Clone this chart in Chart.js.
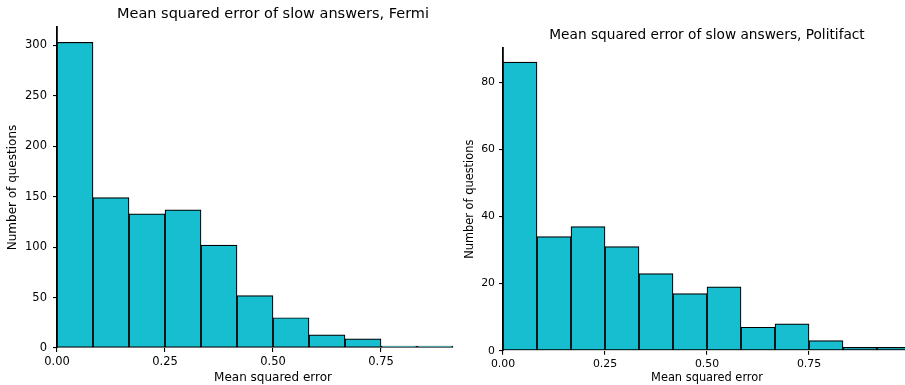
<!DOCTYPE html>
<html>
<head>
<meta charset="utf-8">
<script src="https://cdn.jsdelivr.net/npm/chart.js@4.4.1/dist/chart.umd.min.js"></script>
<style>
html, body { margin: 0; padding: 0; background: #fff; overflow: hidden; width: 905px; height: 385px; }
canvas { position: absolute; top: 0; }
#fermi { left: 0; }
#politifact { left: 450px; }
</style>
</head>
<body>
<canvas id="fermi" width="489" height="385"></canvas>
<canvas id="politifact" width="461" height="385"></canvas>
<script>
// histogram bins are 1/12 wide, starting at 0
var binWidth = 1 / 12;
var fermiCounts = [303, 149, 133, 137, 102, 52, 30, 13, 9, 1, 1];
var politifactCounts = [86, 34, 37, 31, 23, 17, 19, 7, 8, 3, 1, 1];
var xTicks = [0, 0.25, 0.5, 0.75];
var fermiYTicks = [0, 50, 100, 150, 200, 250, 300];
var politifactYTicks = [0, 20, 40, 60, 80];

var FONT = 'DejaVu Sans';

function histogram(id, title, counts, yTicks, s) {
    var ctx = document.getElementById(id).getContext('2d');
    return new Chart(ctx, {
        type: 'bar',
        data: {
            datasets: [{
                data: counts.map(function (c, i) { return { x: (i + 0.5) * binWidth, y: c }; }),
                backgroundColor: '#17becf',
                borderColor: '#000',
                borderWidth: 1.2,
                borderSkipped: false,
                minBarLength: 2,
                barPercentage: 1,
                categoryPercentage: 1
            }]
        },
        options: {
            responsive: false,
            animation: false,
            layout: { padding: { left: s.padLeft, right: 0, top: 0, bottom: 0 } },
            plugins: {
                legend: { display: false },
                tooltip: { enabled: false },
                title: {
                    display: true,
                    text: title,
                    fullSize: false,
                    color: '#000',
                    font: { family: FONT, size: s.titleSize, weight: 'normal' },
                    padding: { top: s.titleTop, bottom: s.titleBottom }
                }
            },
            scales: {
                x: {
                    type: 'linear',
                    min: 0,
                    max: 1,
                    offset: false,
                    afterBuildTicks: function (scale) {
                        scale.ticks = xTicks.map(function (v) { return { value: v }; });
                    },
                    afterFit: function (scale) { scale.height = s.xHeight; },
                    ticks: {
                        color: '#000',
                        font: { family: FONT, size: s.tickSize },
                        padding: 3,
                        maxRotation: 0,
                        callback: function (v) { return Number(v).toFixed(2); }
                    },
                    grid: { display: true, offset: false, drawOnChartArea: false, drawTicks: true, tickLength: 4, color: '#000', lineWidth: 1.1 },
                    border: { display: false },
                    title: {
                        display: true,
                        text: 'Mean squared error',
                        color: '#000',
                        font: { family: FONT, size: s.labelSize },
                        padding: 0
                    }
                },
                y: {
                    min: 0,
                    max: s.yMax,
                    afterBuildTicks: function (scale) {
                        scale.ticks = yTicks.map(function (v) { return { value: v }; });
                    },
                    afterFit: function (scale) { scale.width = s.yWidth; },
                    ticks: {
                        color: '#000',
                        font: { family: FONT, size: s.tickSize },
                        padding: s.yTickPad
                    },
                    grid: { display: true, drawOnChartArea: false, drawTicks: true, tickLength: 4, color: '#000', lineWidth: 1.1 },
                    border: { display: true, color: '#000', width: 1.8 },
                    title: {
                        display: true,
                        text: 'Number of questions',
                        color: '#000',
                        font: { family: FONT, size: s.labelSize },
                        padding: 0
                    }
                }
            }
        }
    });
}

histogram('fermi', 'Mean squared error of slow answers, Fermi', fermiCounts, fermiYTicks, {
    padLeft: 6, yWidth: 51, xHeight: 37, yMax: 318.15,
    titleSize: 14.5, titleTop: 5.3, titleBottom: 4.3,
    tickSize: 11.5, labelSize: 12, yTickPad: 6
});

histogram('politifact', 'Mean squared error of slow answers, Politifact', politifactCounts, politifactYTicks, {
    padLeft: 13, yWidth: 40, xHeight: 34.3, yMax: 90.3,
    titleSize: 13.7, titleTop: 26.8, titleBottom: 4.5,
    tickSize: 10.9, labelSize: 11.4, yTickPad: 4
});
</script>
</body>
</html>
